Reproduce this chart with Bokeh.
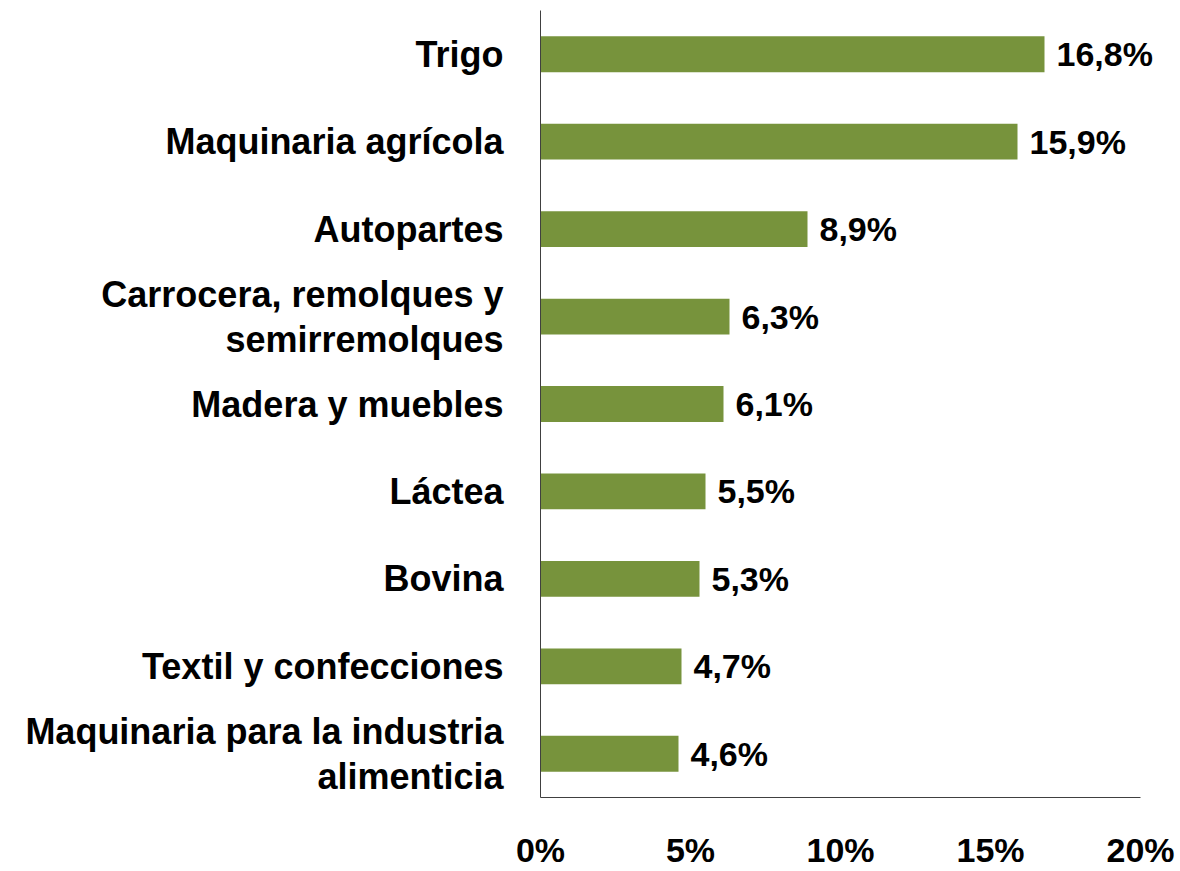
from bokeh.plotting import figure
from bokeh.models import FactorRange, ColumnDataSource, LabelSet, FixedTicker, PrintfTickFormatter
from bokeh.core.properties import value
from bokeh.embed import file_html
from bokeh.resources import INLINE

categories = [
    "Trigo",
    "Maquinaria agrícola",
    "Autopartes",
    "Carrocera, remolques y\nsemirremolques",
    "Madera y muebles",
    "Láctea",
    "Bovina",
    "Textil y confecciones",
    "Maquinaria para la industria\nalimenticia",
]
values = [16.8, 15.9, 8.9, 6.3, 6.1, 5.5, 5.3, 4.7, 4.6]
x_ticks = [0, 5, 10, 15, 20]

value_labels = [f"{v:.1f}%".replace(".", ",") for v in values]

FONT = "Liberation Sans"
BAR_COLOR = "#77933C"

# frame spans 540..1180 px; axis drawn only over 0..20 (540..1140 px)
AXIS_END = 20
RANGE_END = AXIS_END * 640 / 600

source = ColumnDataSource(dict(cat=categories, val=values, lab=value_labels))

p = figure(
    width=1180, height=871,
    y_range=FactorRange(factors=categories[::-1]),
    x_range=(0, RANGE_END),
    output_backend="svg", toolbar_location=None,
    min_border_left=540, min_border_right=0, min_border_top=10, min_border_bottom=74,
)
p.hbar(y="cat", right="val", height=0.41, source=source, color=BAR_COLOR, line_color=None)

labels = LabelSet(x="val", y="cat", text="lab", source=source, x_offset=12,
                  text_align="left", text_baseline="middle",
                  text_font=value(FONT), text_font_style="bold", text_font_size="34px",
                  text_color="black")
p.add_layout(labels)

p.outline_line_color = None
p.xgrid.grid_line_color = None
p.ygrid.grid_line_color = None

p.xaxis.bounds = (0, AXIS_END)
p.xaxis.ticker = FixedTicker(ticks=x_ticks)
p.xaxis.formatter = PrintfTickFormatter(format="%d%%")
p.xaxis.major_tick_line_color = None
p.xaxis.minor_tick_line_color = None
p.xaxis.major_label_standoff = 27
p.xaxis.major_label_text_font = FONT
p.xaxis.major_label_text_font_style = "bold"
p.xaxis.major_label_text_font_size = "34px"
p.xaxis.major_label_text_color = "black"
p.xaxis.axis_line_color = "#404040"

p.yaxis.major_tick_line_color = None
p.yaxis.minor_tick_line_color = None
p.yaxis.major_label_standoff = 31
p.yaxis.major_label_text_font = FONT
p.yaxis.major_label_text_font_style = "bold"
p.yaxis.major_label_text_font_size = "36px"
p.yaxis.major_label_text_line_height = 1.1
p.yaxis.major_label_text_color = "black"
p.yaxis.axis_line_color = "#404040"

open("out.html", "w").write(file_html(p, INLINE))
